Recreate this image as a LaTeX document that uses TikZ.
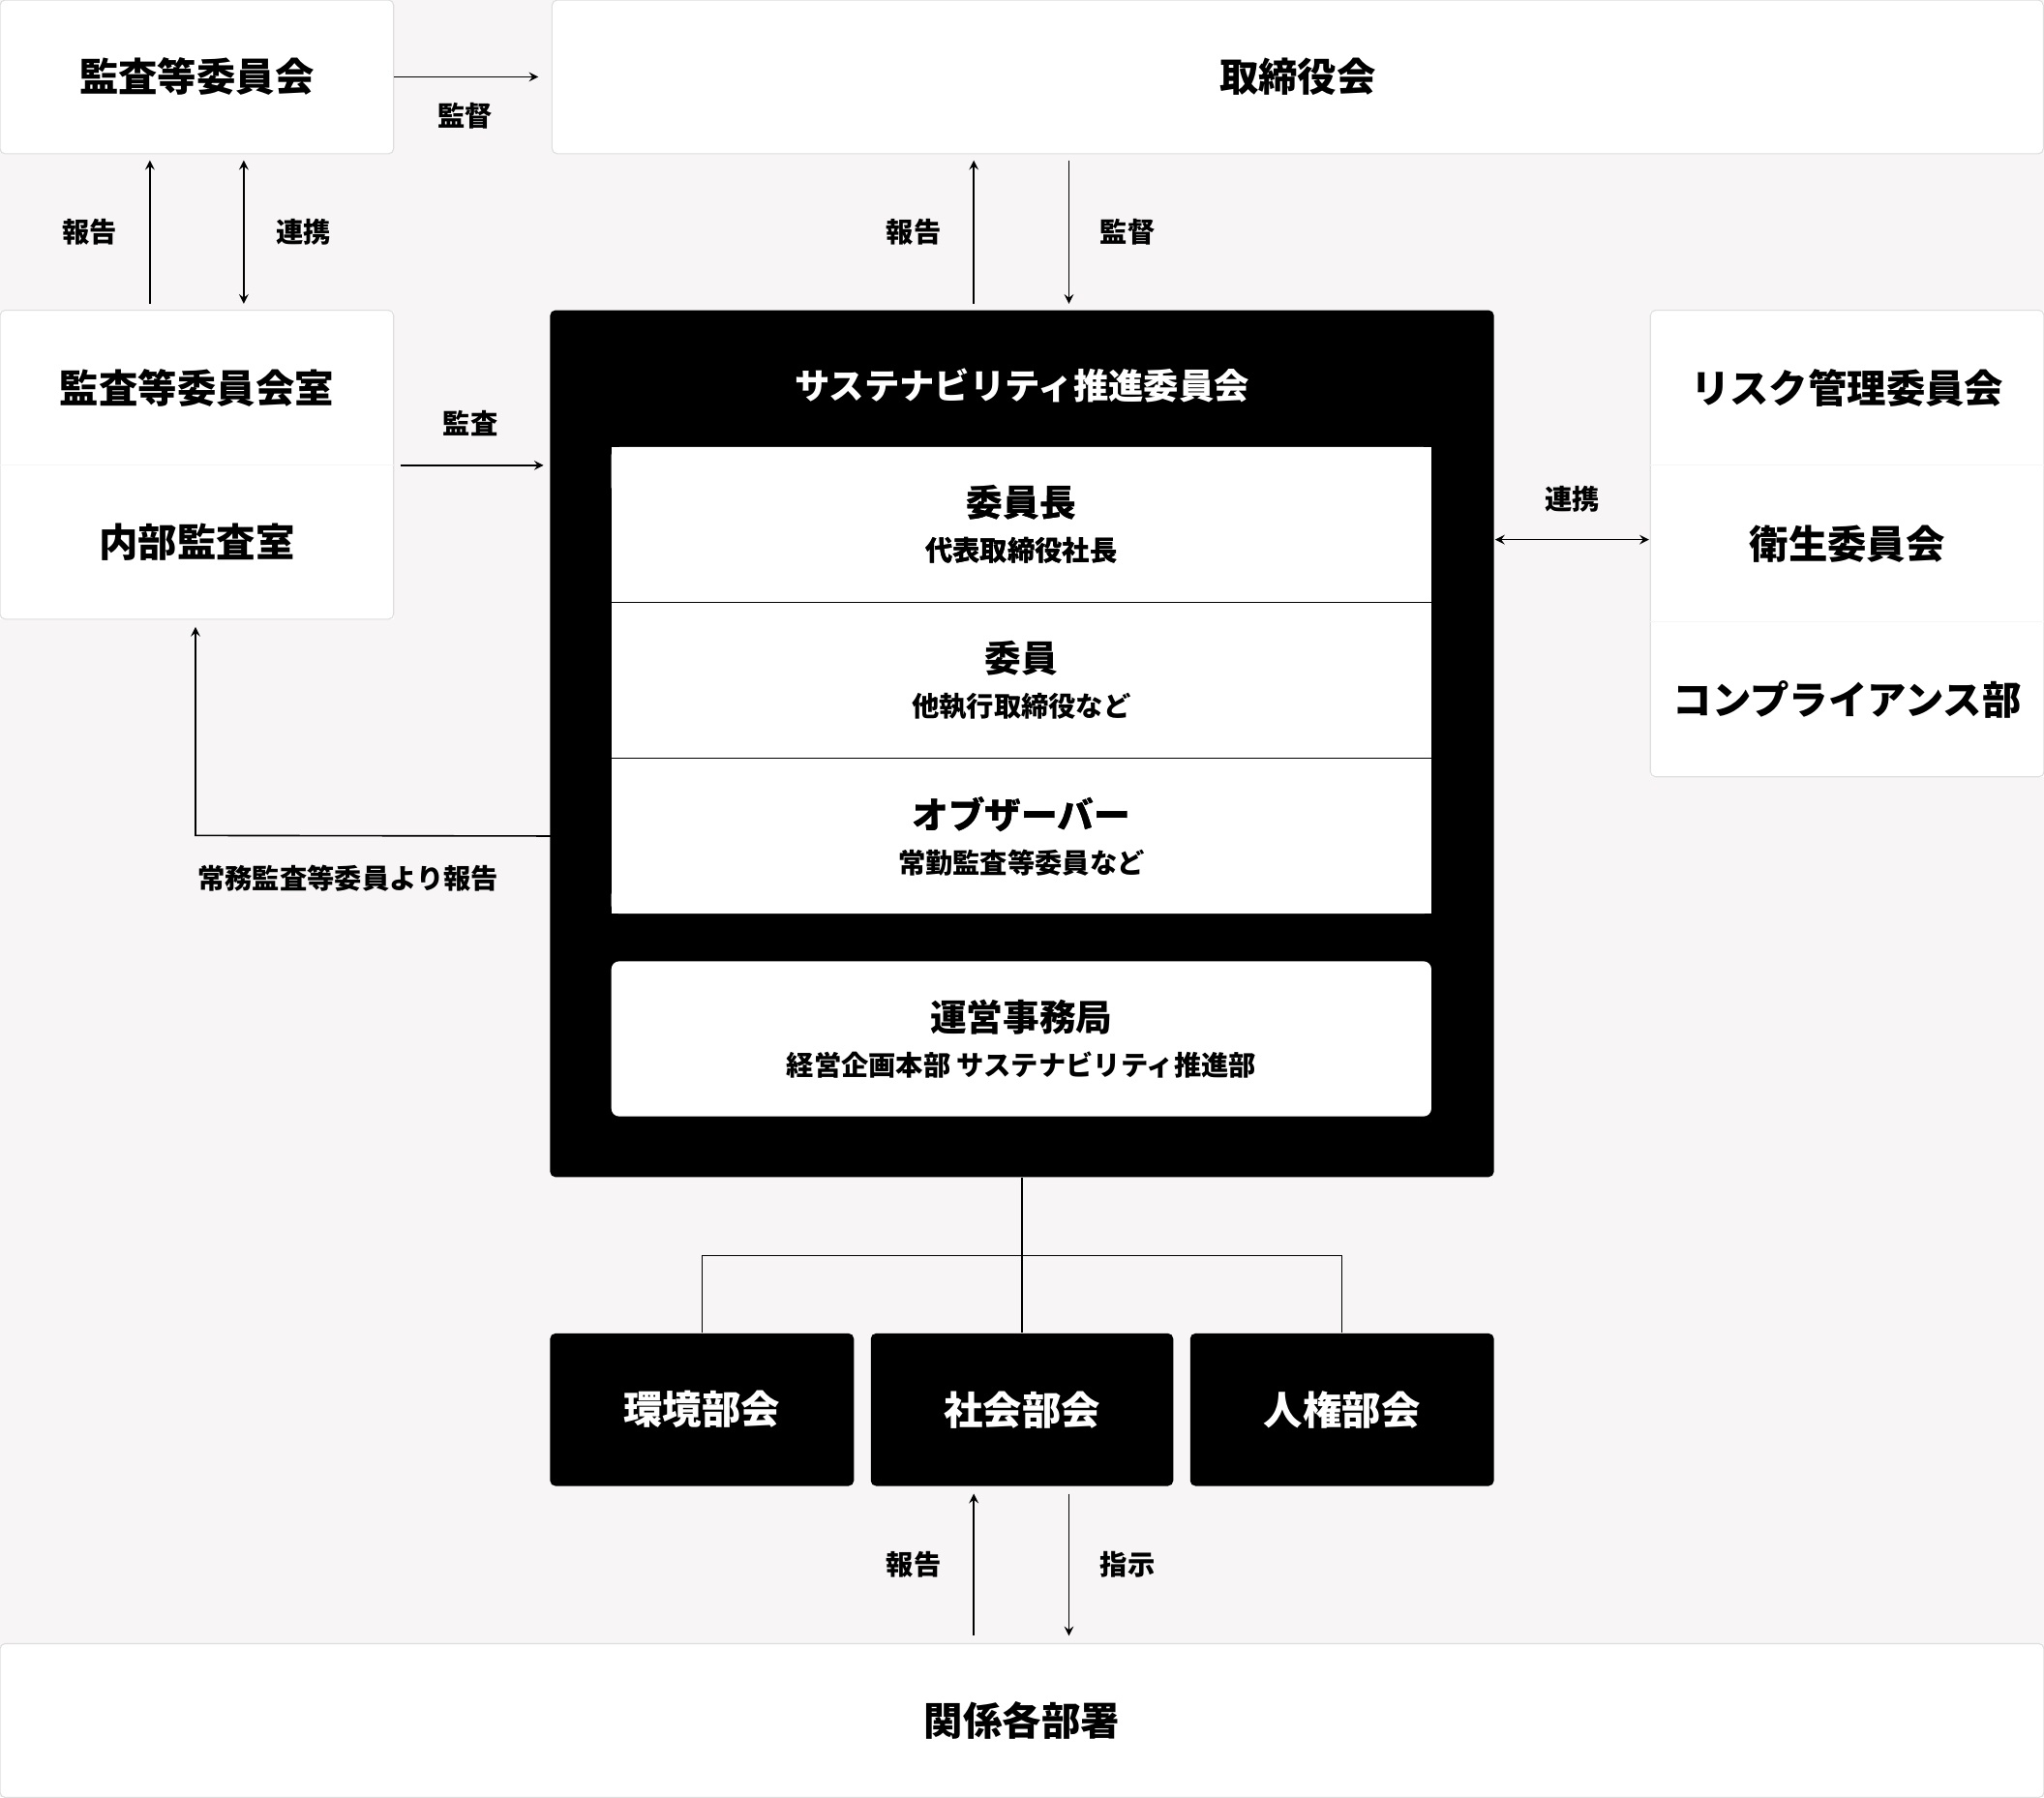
\documentclass[tikz,border=0pt]{standalone}
\usepackage{fontspec}
\setmainfont{Noto Sans CJK JP}
\usepackage{tikz}
\usetikzlibrary{positioning,calc,arrows}
\definecolor{bggray}{RGB}{247,245,245}
\definecolor{edgegray}{RGB}{222,222,222}
\tikzstyle{wbox} = [rectangle, rounded corners=2pt, draw=edgegray, fill=white, font=\fontsize{15pt}{18pt}\selectfont\bfseries, inner sep=0pt]
\tikzstyle{bbox} = [rectangle, rounded corners=2pt, fill=black, text=white, font=\fontsize{15pt}{18pt}\selectfont\bfseries, inner sep=0pt]
\tikzstyle{ibox} = [rectangle, fill=white, align=center, font=\fontsize{14pt}{18pt}\selectfont\bfseries, inner sep=0pt, minimum width=314.5pt, minimum height=59.5pt]
\tikzstyle{lbl} = [font=\fontsize{10.5pt}{12pt}\selectfont\bfseries]
\tikzstyle{sub} = [font=\fontsize{10.5pt}{12pt}\selectfont\bfseries]
\tikzstyle{arrow} = [semithick,->,>=stealth]
\tikzstyle{darrow} = [semithick,<->,>=stealth]
\begin{document}
\begin{tikzpicture}[x=0.5pt, y=-0.5pt]
\fill[bggray] (0,0) rectangle (1568,1379);
\useasboundingbox (0,0) rectangle (1568,1379);

% Top row
\node [wbox, minimum width=151pt, minimum height=59pt] (audit) at (151,59) {監査等委員会};
\node [wbox, minimum width=572pt, minimum height=59pt] (board) at (995.5,59) {取締役会};

% Left column
\node [wbox, minimum width=151pt, minimum height=59.5pt, rounded corners=0pt, draw=none] (auditoffice) at (151,297.5) {監査等委員会室};
\node [wbox, minimum width=151pt, minimum height=59pt, rounded corners=0pt, draw=none] (internal) at (151,416) {内部監査室};
\draw [edgegray, rounded corners=2pt] (0,238) rectangle (302,475);
\draw [bggray] (0,357) -- (302,357);

% Committee
\node [bbox, minimum width=362pt, minimum height=332.5pt] (committee) at (784,570.5) {};
\node [text=white, font=\fontsize{13.5pt}{16pt}\selectfont\bfseries] (ctitle) at (784,296) {サステナビリティ推進委員会};
\node [ibox] (chair) at (783.5,402.5) {委員長\\[-1pt]{\fontsize{10.5pt}{12pt}\selectfont 代表取締役社長}};
\node [ibox] (members) at (783.5,522) {委員\\[-1pt]{\fontsize{10.5pt}{12pt}\selectfont 他執行取締役など}};
\node [ibox] (observer) at (783.5,641.5) {オブザーバー\\[-1pt]{\fontsize{10.5pt}{12pt}\selectfont 常勤監査等委員など}};
\node [ibox, rounded corners=3pt] (office) at (783.5,797) {運営事務局\\[-1pt]{\fontsize{10.5pt}{12pt}\selectfont 経営企画本部 サステナビリティ推進部}};
\draw (chair.south west) -- (chair.south east);
\draw (members.south west) -- (members.south east);
\fill[white, rounded corners=3pt] (469,680) rectangle (1098,701);
\fill[white] (469,650) rectangle (1098,690);
\node [ibox, minimum height=0pt, fill=none] at (783.5,641.5) {オブザーバー\\[-1pt]{\fontsize{10.5pt}{12pt}\selectfont 常勤監査等委員など}};
\fill[white, rounded corners=3pt] (469,343) rectangle (1098,380);
\node [ibox, minimum height=0pt, fill=none] at (783.5,402.5) {委員長\\[-1pt]{\fontsize{10.5pt}{12pt}\selectfont 代表取締役社長}};

% Right column
\node [wbox, minimum width=151pt, minimum height=59.5pt, rounded corners=0pt, draw=none] (risk) at (1417,297.5) {リスク管理委員会};
\node [wbox, minimum width=151pt, minimum height=60pt, rounded corners=0pt, draw=none] (hygiene) at (1417,417) {衛生委員会};
\node [wbox, minimum width=151pt, minimum height=59.5pt, rounded corners=0pt, draw=none] (compliance) at (1417,536.5) {コンプライアンス部};
\draw [edgegray, rounded corners=2pt] (1266,238) rectangle (1568,596);
\draw [bggray] (1266,357) -- (1568,357);
\draw [bggray] (1266,477) -- (1568,477);

% Sub committees
\node [bbox, minimum width=116.5pt, minimum height=58.5pt] (env) at (538.5,1081.5) {環境部会};
\node [bbox, minimum width=116pt, minimum height=58.5pt] (soc) at (784,1081.5) {社会部会};
\node [bbox, minimum width=116.5pt, minimum height=58.5pt] (hr) at (1029.5,1081.5) {人権部会};
\node [wbox, minimum width=784pt, minimum height=59pt] (depts) at (784,1320) {関係各部署};

% Arrows
\draw [arrow] (302,59) -- (413,59);
\node [lbl] at (357,89) {監督};
\draw [arrow] (115,233) -- (115,123);
\node [lbl] at (69,178) {報告};
\draw [darrow] (187,123) -- (187,233);
\node [lbl] at (233,178) {連携};
\draw [arrow] (747,233) -- (747,123);
\node [lbl] at (701,178) {報告};
\draw [arrow] (820,123) -- (820,233);
\node [lbl] at (865,178) {監督};
\draw [arrow] (307,357) -- (417,357);
\node [lbl] at (361,325) {監査};
\draw [darrow] (1147,414) -- (1265,414);
\node [lbl] at (1206,383) {連携};
\draw [arrow] (observer.west) -- (150,641) -- (150,481);
\node [lbl] at (267,674) {常務監査等委員より報告};
\draw (committee.south) -- (784,963);
\draw (env.north) |- (784,963) -| (hr.north);
\draw (784,963) -- (soc.north);
\draw [arrow] (747,1255) -- (747,1146);
\node [lbl] at (701,1200) {報告};
\draw [arrow] (820,1146) -- (820,1255);
\node [lbl] at (865,1200) {指示};
\end{tikzpicture}
\end{document}
